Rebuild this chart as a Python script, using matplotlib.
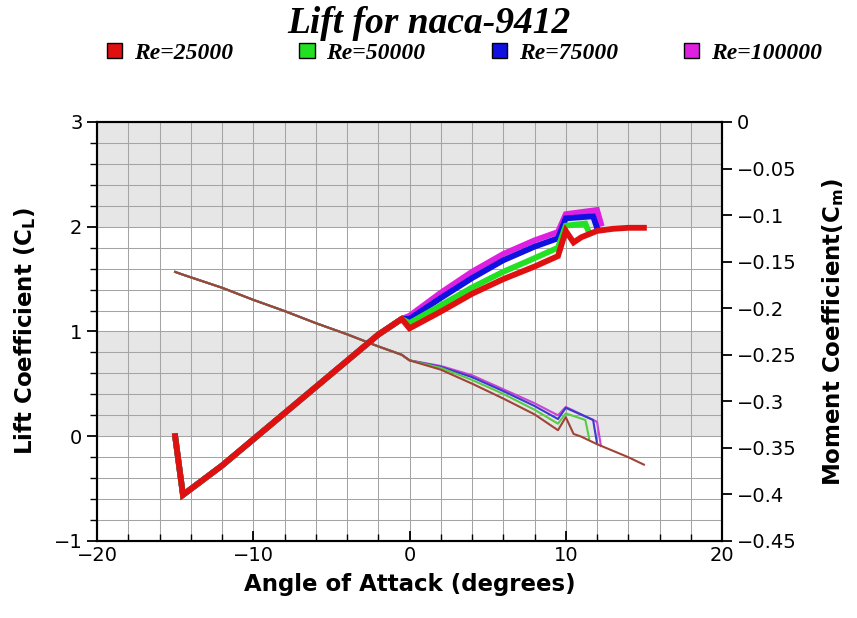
import matplotlib
matplotlib.use("Agg")
import matplotlib.pyplot as plt
from matplotlib.patches import Patch
from matplotlib.ticker import MultipleLocator, FuncFormatter

# Angle of attack (deg) and coefficients for each Reynolds number
labels = ["Re=25000", "Re=50000", "Re=75000", "Re=100000"]
lift_colors = ["#e01010", "#22e022", "#1010e0", "#e020e0"]
moment_colors = ["#a04438", "#55cc44", "#3a3acc", "#cc44d8"]

# shared part of the polars (negative angles)
alpha_neg = [-15, -14.5, -12, -10, -8, -6, -4, -2, -0.5]
cl_neg = [0.0, -0.56, -0.28, -0.03, 0.22, 0.47, 0.72, 0.97, 1.12]
cm_neg = [-0.161, -0.164, -0.178, -0.191, -0.203, -0.216, -0.228, -0.241, -0.250]

alpha_25k = [0, 2, 4, 6, 8, 9.5, 10, 10.5, 11, 11.5, 12, 13, 14, 15]
cl_25k = [1.03, 1.19, 1.36, 1.50, 1.62, 1.72, 1.96, 1.85, 1.90, 1.93, 1.96, 1.98, 1.99, 1.99]
cm_25k = [-0.256, -0.266, -0.281, -0.297, -0.314, -0.331, -0.317, -0.335, -0.338, -0.342,
          -0.346, -0.353, -0.360, -0.368]

alpha_50k = [0, 2, 4, 6, 8, 9.5, 10, 11.25, 11.5]
cl_50k = [1.08, 1.25, 1.42, 1.57, 1.70, 1.80, 2.01, 2.03, 1.94]
cm_50k = [-0.256, -0.264, -0.277, -0.292, -0.309, -0.324, -0.313, -0.320, -0.340]

alpha_75k = [0, 2, 4, 6, 8, 9.5, 10, 11.75, 12]
cl_75k = [1.12, 1.32, 1.51, 1.68, 1.81, 1.89, 2.08, 2.10, 1.99]
cm_75k = [-0.256, -0.263, -0.274, -0.289, -0.305, -0.319, -0.307, -0.320, -0.345]

alpha_100k = [0, 1, 2, 4, 6, 8, 9.5, 10, 12, 12.25]
cl_100k = [1.15, 1.26, 1.37, 1.57, 1.74, 1.87, 1.95, 2.12, 2.16, 2.03]
cm_100k = [-0.256, -0.259, -0.262, -0.272, -0.287, -0.302, -0.315, -0.306, -0.322, -0.348]

series = [(alpha_25k, cl_25k, cm_25k), (alpha_50k, cl_50k, cm_50k),
          (alpha_75k, cl_75k, cm_75k), (alpha_100k, cl_100k, cm_100k)]

fig = plt.figure(figsize=(8.57, 6.18), dpi=100, facecolor="white")
ax = fig.add_axes([0.1132, 0.1246, 0.7293, 0.678], facecolor="white")  # lift axes
ax2 = ax.twinx()                                                       # moment scale
ax2.patch.set_visible(False)

ax.set_xlim(-20, 20)
ax.set_ylim(-1, 3)
ax2.set_ylim(-0.45, 0)
ax.set_autoscale_on(False)

# alternating white / grey bands
for lo, hi, c in [(-1, 0, "#ffffff"), (0, 1, "#e6e6e6"), (1, 2, "#ffffff"), (2, 3, "#e6e6e6")]:
    ax.axhspan(lo, hi, facecolor=c, edgecolor="none", lw=0, zorder=0)

ax.xaxis.set_major_locator(MultipleLocator(10))
ax.xaxis.set_minor_locator(MultipleLocator(2))
ax.yaxis.set_major_locator(MultipleLocator(1))
ax.yaxis.set_minor_locator(MultipleLocator(0.2))
ax2.yaxis.set_major_locator(MultipleLocator(0.05))
ax.grid(which="both", color="#a4a4a4", lw=0.75)
ax.set_axisbelow(True)

def minus(s):
    return s.replace("-", "\u2212")

ax.xaxis.set_major_formatter(FuncFormatter(lambda v, p: minus(f"{v:g}")))
ax.yaxis.set_major_formatter(FuncFormatter(lambda v, p: minus(f"{v:g}")))
ax2.yaxis.set_major_formatter(FuncFormatter(lambda v, p: "0" if abs(v) < 1e-9 else minus(f"{v:g}")))

ax.tick_params(axis="both", which="major", labelsize=14, length=7, width=1.3, color="black")
ax.tick_params(axis="both", which="minor", length=5, width=1.0)
ax.tick_params(axis="x", which="both", direction="in")
ax2.tick_params(axis="y", which="major", labelsize=14, length=7, width=1.3)
for a in (ax, ax2):
    for s in a.spines.values():
        s.set_linewidth(1.5)

# moment curves (thin), plotted in the right-hand scale
for i in [3, 2, 1, 0]:
    al, cl, cm = series[i]
    ax.plot(alpha_neg + al, cm_neg + cm, color=moment_colors[i], lw=1.5, zorder=3,
            transform=ax2.transData)

# lift curves (thick)
for i in [3, 2, 1, 0]:
    al, cl, cm = series[i]
    ax.plot(alpha_neg + al, cl_neg + cl, color=lift_colors[i], lw=4.2, zorder=4,
            solid_joinstyle="miter")

label_font = dict(fontsize=16.5, fontweight="bold", fontfamily="DejaVu Sans")
ax.set_xlabel("Angle of Attack (degrees)", labelpad=6, **label_font)
ax.set_ylabel("Lift Coefficient (C$_\\mathregular{L}$)", labelpad=11, **label_font)
ax2.set_ylabel("Moment Coefficient(C$_\\mathregular{m}$)", labelpad=17, **label_font)

fig.text(0.5, 0.962, "Lift for naca-9412", ha="center", va="center",
         fontsize=27, fontweight="bold", fontstyle="italic", fontfamily="Liberation Serif")

handles = [Patch(facecolor=c, edgecolor="black", lw=1.0) for c in lift_colors]
fig.legend(handles, labels, loc="center", bbox_to_anchor=(0.542, 0.914), ncol=4,
           frameon=False, handlelength=0.65, handleheight=0.65, handletextpad=0.5,
           columnspacing=2.8,
           prop=dict(family="Liberation Serif", weight="bold", style="italic", size=17))

fig.savefig("out.png", dpi=100, facecolor="white")
